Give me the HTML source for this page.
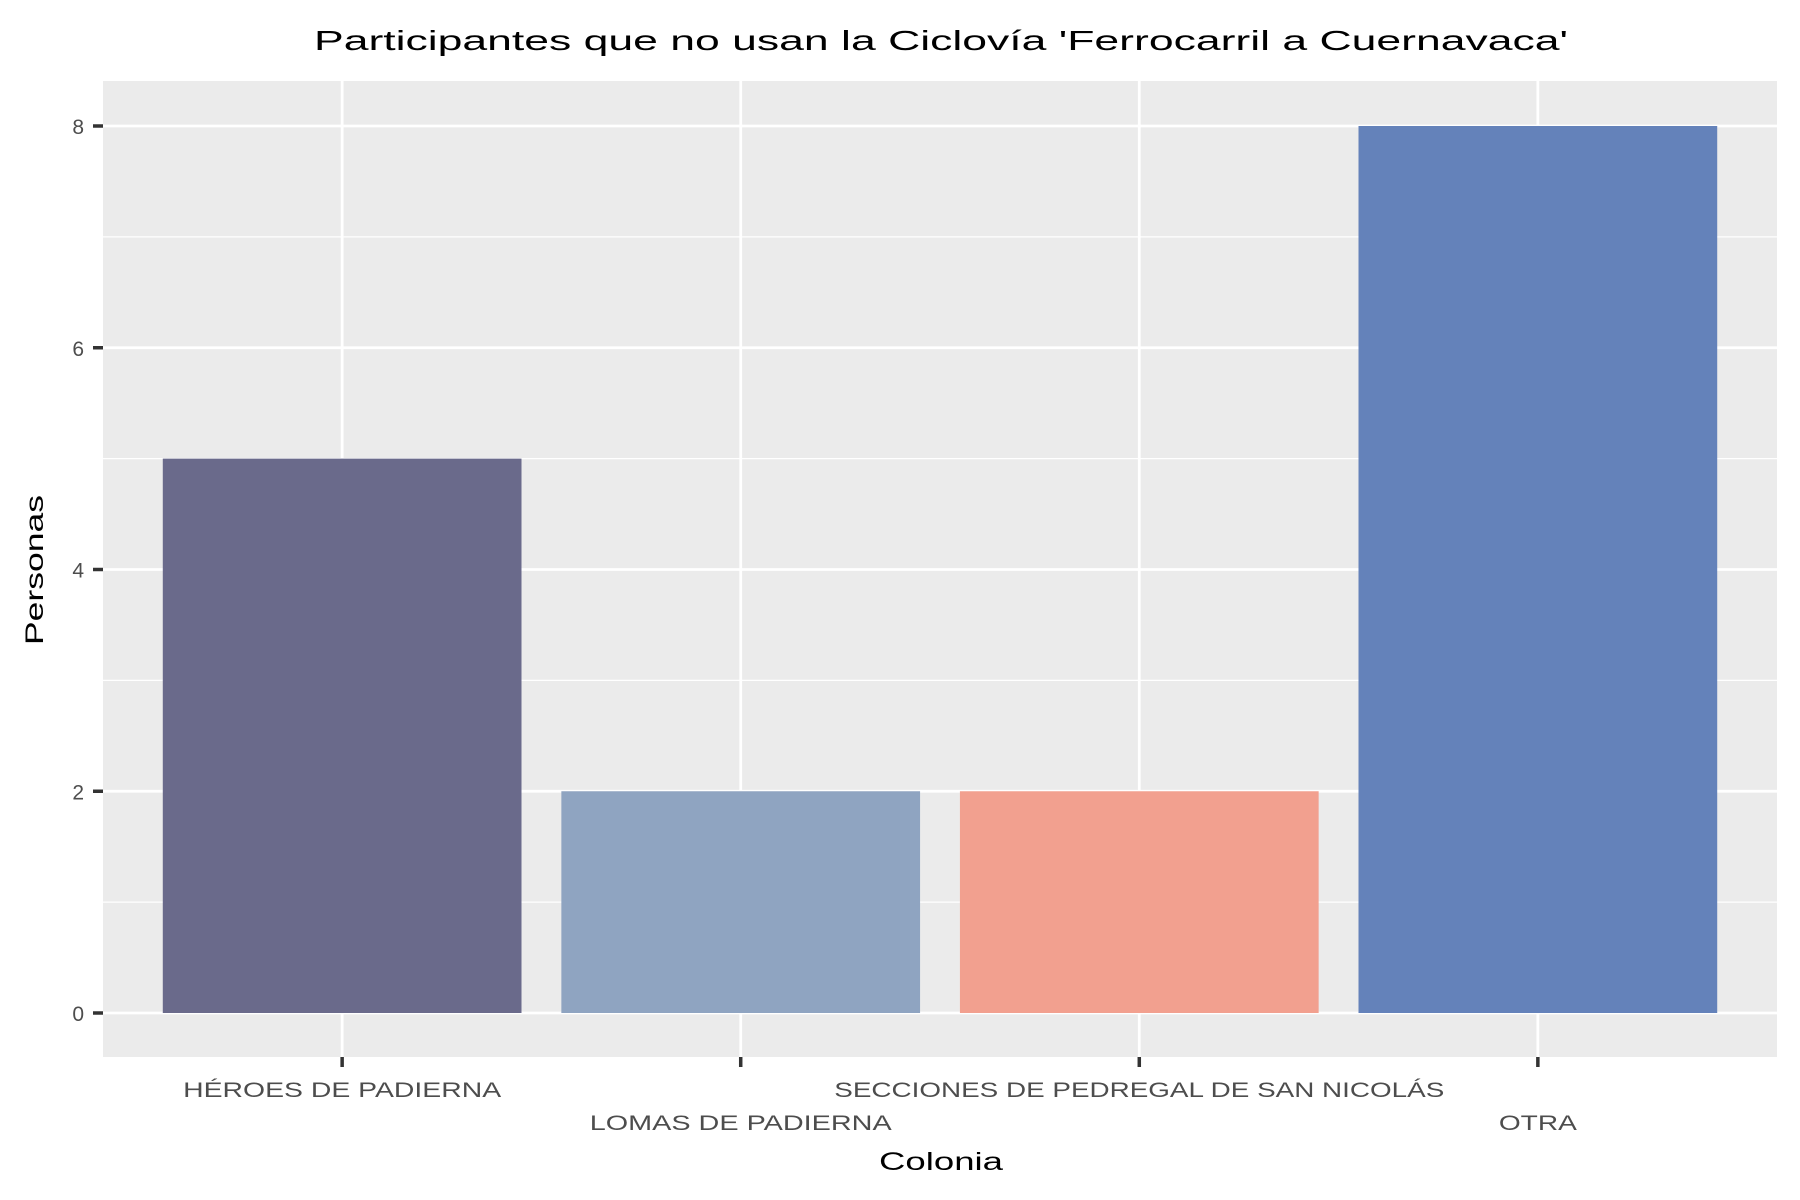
<!DOCTYPE html>
<html><head><meta charset="utf-8"><style>body{margin:0;background:#fff}svg{display:block;font-family:"Liberation Sans",sans-serif}</style></head>
<body>
<svg id="chart" width="1800" height="1200" viewBox="0 0 1800 1200" xmlns="http://www.w3.org/2000/svg">
<rect x="103" y="81" width="1674" height="976" fill="#EBEBEB"/>
<g id="grid"></g><g id="bars"></g><g id="axes"></g>
<text x="941" y="50" text-anchor="middle" font-size="28" fill="#000" textLength="1254" lengthAdjust="spacingAndGlyphs">Participantes que no usan la Ciclovía 'Ferrocarril a Cuernavaca'</text>
<text x="941" y="1170" text-anchor="middle" font-size="25" fill="#000" textLength="124" lengthAdjust="spacingAndGlyphs">Colonia</text>
<text transform="translate(43,570) rotate(-90)" text-anchor="middle" font-size="25" fill="#000" textLength="150" lengthAdjust="spacingAndGlyphs">Personas</text>
</svg>
<script>
const categories=["HÉROES DE PADIERNA","LOMAS DE PADIERNA","SECCIONES DE PEDREGAL DE SAN NICOLÁS","OTRA"];
const values=[5,2,2,8];
const colors=["#6A6A8B","#8FA4C1","#F2A08F","#6482BA"];
const yTicks=[0,2,4,6,8];
const labelWidths=[318,302,610,78];
const NS="http://www.w3.org/2000/svg";
const L=103,R=1777,T=81,B=1057;
const y0=1013,y8=126;
function y(v){return y0+(y8-y0)*v/8;}
const band=(R-L)/(categories.length+0.2);
function xc(i){return L+band*(i+0.6);}
function mk(t,a,p){const e=document.createElementNS(NS,t);for(const k in a)e.setAttribute(k,a[k]);p.appendChild(e);return e;}
const grid=document.getElementById('grid'),bars=document.getElementById('bars'),axes=document.getElementById('axes');
for(let v=1;v<8;v+=2){const g=mk('line',{x1:L,x2:R,y1:y(v),y2:y(v),stroke:'#fff','stroke-width':1.3},grid);

}
yTicks.forEach(v=>{const g=mk('line',{x1:L,x2:R,y1:y(v),y2:y(v),stroke:'#fff','stroke-width':2.8},grid);


const tk=mk('line',{x1:93,x2:103,y1:y(v),y2:y(v),stroke:'#333','stroke-width':3.5},axes);


const t=mk('text',{x:84,y:y(v)+8,'text-anchor':'end','font-size':21,fill:'#4D4D4D'},axes);t.textContent=v;

});
categories.forEach((c,i)=>{const cx=xc(i);
const g=mk('line',{x1:cx,x2:cx,y1:T,y2:B,stroke:'#fff','stroke-width':2.8},grid);


const w=band*0.9;
const b=mk('rect',{x:cx-w/2,y:y(values[i]),width:w,height:y0-y(values[i]),fill:colors[i]},bars);


const tk=mk('line',{x1:cx,x2:cx,y1:B,y2:B+10,stroke:'#333','stroke-width':3.5},axes);


const t=mk('text',{x:cx,y:i%2?1130:1097,'text-anchor':'middle','font-size':21,fill:'#4D4D4D',textLength:labelWidths[i],lengthAdjust:'spacingAndGlyphs'},axes);t.textContent=c;

});
</script>
</body></html>
